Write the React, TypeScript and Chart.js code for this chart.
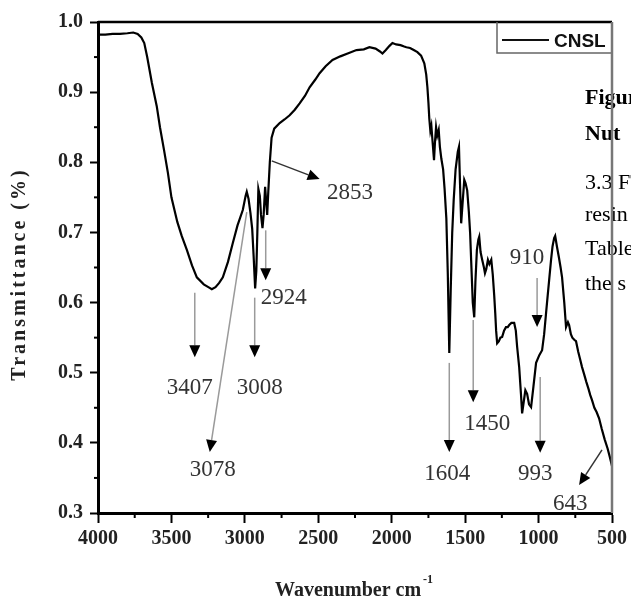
import React, { useEffect, useRef } from 'react';
import { Chart, registerables } from 'chart.js';

Chart.register(...registerables);

// ---- Spectrum (wavenumber cm^-1, transmittance) ----
const wavenumbers = [
  4000, 3950, 3900, 3850, 3800, 3760, 3730, 3705, 3685, 3665, 3633, 3600, 3578, 3550, 3524, 3500,
  3460, 3430, 3395, 3360, 3327, 3280, 3240, 3225, 3200, 3175, 3150, 3115, 3082, 3050, 3014, 2995,
  2987, 2975, 2962, 2950, 2940, 2930, 2922, 2915, 2908, 2898, 2890, 2880, 2872, 2862, 2855, 2848,
  2840, 2830, 2818, 2800, 2763, 2730, 2695, 2660, 2627, 2590, 2559, 2520, 2491, 2450, 2403, 2350,
  2300, 2240, 2190, 2152, 2110, 2080, 2063, 2040, 2015, 1995, 1970, 1940, 1915, 1900, 1875, 1850,
  1825, 1800, 1778, 1765, 1757, 1750, 1744, 1737, 1730, 1722, 1712, 1705, 1698, 1690, 1680, 1672,
  1662, 1650, 1640, 1628, 1618, 1608, 1598, 1588, 1578, 1565, 1550, 1542, 1535, 1527, 1518, 1506,
  1497, 1486, 1475, 1466, 1459, 1448, 1438, 1430, 1420, 1410, 1404, 1395, 1384, 1372, 1365, 1356,
  1345, 1335, 1322, 1312, 1302, 1295, 1289, 1282, 1270, 1260, 1248, 1235, 1222, 1210, 1200, 1185,
  1166, 1155, 1146, 1132, 1120, 1112, 1100, 1090, 1078, 1065, 1051, 1035, 1017, 995, 976, 962,
  949, 938, 928, 915, 905, 894, 887, 875, 862, 850, 840, 825, 813, 800, 792, 780,
  770, 757, 745, 730, 718, 704, 690, 675, 660, 648, 636, 620, 605, 588, 570, 550,
  530, 515, 500,
];
const transmittance = [
  0.982, 0.982, 0.983, 0.983, 0.984, 0.985, 0.983, 0.978, 0.970, 0.950, 0.913, 0.880, 0.850, 0.817, 0.785, 0.750,
  0.715, 0.695, 0.675, 0.653, 0.636, 0.626, 0.621, 0.619, 0.622, 0.628, 0.636, 0.658, 0.685, 0.710, 0.732, 0.752,
  0.758, 0.748, 0.728, 0.705, 0.665, 0.620, 0.645, 0.700, 0.762, 0.752, 0.725, 0.706, 0.725, 0.765, 0.745, 0.725,
  0.760, 0.800, 0.835, 0.848, 0.856, 0.861, 0.867, 0.875, 0.884, 0.895, 0.907, 0.918, 0.927, 0.937, 0.946, 0.951,
  0.955, 0.960, 0.961, 0.964, 0.962, 0.958, 0.955, 0.960, 0.966, 0.970, 0.968, 0.967, 0.965, 0.964, 0.963, 0.960,
  0.957, 0.952, 0.941, 0.925, 0.907, 0.885, 0.862, 0.845, 0.852, 0.830, 0.803, 0.830, 0.850, 0.838, 0.846, 0.822,
  0.805, 0.790, 0.762, 0.720, 0.640, 0.528, 0.620, 0.700, 0.746, 0.790, 0.815, 0.822, 0.770, 0.713, 0.740, 0.775,
  0.770, 0.760, 0.730, 0.699, 0.660, 0.600, 0.579, 0.630, 0.675, 0.690, 0.694, 0.672, 0.661, 0.650, 0.642, 0.648,
  0.661, 0.655, 0.661, 0.640, 0.610, 0.585, 0.560, 0.542, 0.545, 0.550, 0.551, 0.560, 0.565, 0.565, 0.568, 0.571,
  0.571, 0.560, 0.537, 0.508, 0.470, 0.442, 0.460, 0.475, 0.470, 0.455, 0.451, 0.480, 0.514, 0.525, 0.532, 0.555,
  0.585, 0.610, 0.632, 0.661, 0.680, 0.692, 0.695, 0.680, 0.665, 0.650, 0.636, 0.600, 0.565, 0.572, 0.568, 0.555,
  0.550, 0.547, 0.545, 0.530, 0.520, 0.508, 0.498, 0.487, 0.477, 0.468, 0.461, 0.450, 0.444, 0.435, 0.420, 0.405,
  0.392, 0.380, 0.367,
];

// ---- Axis ticks ----
const xMajorTicks = [4000, 3500, 3000, 2500, 2000, 1500, 1000, 500];
const xMinorTicks = [3750, 3250, 2750, 2250, 1750, 1250, 750];
const yMajorTicks = [0.3, 0.4, 0.5, 0.6, 0.7, 0.8, 0.9, 1.0];
const yMinorTicks = [0.35, 0.45, 0.55, 0.65, 0.75, 0.85, 0.95];

// ---- Peak annotations (data units) ----
const peakLabels = ['3407', '3008', '2924', '3078', '2853', '1604', '1450', '910', '993', '643'];
const arrowFromX = [3341, 2933, 2858, 2987, 2817, 1608, 1445, 1010, 989, 568];
const arrowFromY = [0.614, 0.607, 0.703, 0.729, 0.802, 0.514, 0.575, 0.635, 0.494, 0.390];
const arrowToX = [3341, 2933, 2858, 3239, 2491, 1608, 1445, 1010, 989, 724];
const arrowToY = [0.522, 0.522, 0.632, 0.387, 0.776, 0.387, 0.458, 0.565, 0.386, 0.340];
const labelX = [3375, 2899, 2736, 3218, 2284, 1621, 1350, 1078, 1023, 785];
const labelY = [0.478, 0.478, 0.607, 0.361, 0.756, 0.356, 0.427, 0.664, 0.356, 0.313];
const arrowDark = [false, false, false, false, true, false, false, false, false, true];

const seriesName = 'CNSL';
const yTitle = 'Transmittance (%)';
const xTitle = 'Wavenumber cm';
const xTitleSup = '-1';
const pageLines = ['Figure', 'Nut', '3.3 FTIR', 'resin', 'Table', 'the s'];
const pageBold = [true, true, false, false, false, false];

const SERIF = '"Liberation Serif", "Times New Roman", serif';
const SANS = '"Liberation Sans", Arial, sans-serif';

const overlayPlugin = {
  id: 'overlay',
  afterDraw(chart: any) {
    const { ctx, chartArea: a } = chart;
    const xs = chart.scales.x;
    const ys = chart.scales.y;
    ctx.save();

    // top border
    ctx.strokeStyle = '#000';
    ctx.lineWidth = 2.5;
    ctx.beginPath();
    ctx.moveTo(a.left, a.top);
    ctx.lineTo(a.right, a.top);
    ctx.stroke();

    // minor ticks
    ctx.strokeStyle = '#000';
    ctx.lineWidth = 2;
    for (const v of xMinorTicks) {
      const px = xs.getPixelForValue(v);
      ctx.beginPath();
      ctx.moveTo(px, a.bottom);
      ctx.lineTo(px, a.bottom + 5);
      ctx.stroke();
    }
    for (const v of yMinorTicks) {
      const py = ys.getPixelForValue(v);
      ctx.beginPath();
      ctx.moveTo(a.left, py);
      ctx.lineTo(a.left - 4, py);
      ctx.stroke();
    }

    // arrows
    for (let i = 0; i < peakLabels.length; i++) {
      const x1 = xs.getPixelForValue(arrowFromX[i]);
      const y1 = ys.getPixelForValue(arrowFromY[i]);
      const x2 = xs.getPixelForValue(arrowToX[i]);
      const y2 = ys.getPixelForValue(arrowToY[i]);
      const ang = Math.atan2(y2 - y1, x2 - x1);
      const hl = 12;
      const hw = 5.5;
      const bx = x2 - hl * Math.cos(ang);
      const by = y2 - hl * Math.sin(ang);
      ctx.strokeStyle = arrowDark[i] ? '#333' : '#9a9a9a';
      ctx.lineWidth = 1.5;
      ctx.beginPath();
      ctx.moveTo(x1, y1);
      ctx.lineTo(bx, by);
      ctx.stroke();
      ctx.fillStyle = '#000';
      ctx.beginPath();
      ctx.moveTo(x2, y2);
      ctx.lineTo(bx + hw * Math.sin(ang), by - hw * Math.cos(ang));
      ctx.lineTo(bx - hw * Math.sin(ang), by + hw * Math.cos(ang));
      ctx.closePath();
      ctx.fill();
    }

    // peak labels
    ctx.fillStyle = '#333';
    ctx.font = `23px ${SERIF}`;
    ctx.textAlign = 'center';
    ctx.textBaseline = 'middle';
    for (let i = 0; i < peakLabels.length; i++) {
      ctx.fillText(peakLabels[i], xs.getPixelForValue(labelX[i]), ys.getPixelForValue(labelY[i]));
    }

    // legend box
    const lx = a.right - 115;
    const ly = a.top;
    ctx.strokeStyle = '#666';
    ctx.lineWidth = 1.5;
    ctx.beginPath();
    ctx.moveTo(lx, ly);
    ctx.lineTo(lx, ly + 31);
    ctx.lineTo(a.right, ly + 31);
    ctx.stroke();
    ctx.strokeStyle = '#111';
    ctx.lineWidth = 2;
    ctx.beginPath();
    ctx.moveTo(lx + 5, ly + 18);
    ctx.lineTo(lx + 52, ly + 18);
    ctx.stroke();
    ctx.fillStyle = '#111';
    ctx.font = `bold 19px ${SANS}`;
    ctx.textAlign = 'left';
    ctx.textBaseline = 'alphabetic';
    ctx.fillText(seriesName, lx + 57, ly + 25);

    // axis titles
    ctx.fillStyle = '#222';
    ctx.font = `bold 20px ${SERIF}`;
    ctx.textAlign = 'left';
    ctx.textBaseline = 'alphabetic';
    ctx.fillText(xTitle, 275, 596);
    const tw = ctx.measureText(xTitle).width;
    ctx.font = `bold 12px ${SERIF}`;
    ctx.fillText(xTitleSup, 275 + tw + 2, 583);

    ctx.save();
    ctx.translate(20, 274);
    ctx.rotate(-Math.PI / 2);
    ctx.font = `bold 20px ${SERIF}`;
    (ctx as any).letterSpacing = '3px';
    ctx.textAlign = 'center';
    ctx.textBaseline = 'middle';
    ctx.fillText(yTitle, 0, 0);
    ctx.restore();

    // overlapping page text
    const baselines = [104, 140, 189, 221, 255, 290];
    ctx.fillStyle = '#000';
    ctx.textAlign = 'left';
    ctx.textBaseline = 'alphabetic';
    for (let i = 0; i < pageLines.length; i++) {
      ctx.font = `${pageBold[i] ? 'bold ' : ''}22px ${SERIF}`;
      ctx.fillText(pageLines[i], 585, baselines[i]);
    }

    // right border (drawn over the page text, as in the reference)
    ctx.strokeStyle = '#777';
    ctx.lineWidth = 2.5;
    ctx.beginPath();
    ctx.moveTo(a.right, a.top);
    ctx.lineTo(a.right, a.bottom);
    ctx.stroke();

    ctx.restore();
  },
};

export default function App() {
  const ref = useRef<HTMLCanvasElement | null>(null);

  useEffect(() => {
    if (!ref.current) return;
    const data = wavenumbers.map((w, i) => ({ x: w, y: transmittance[i] }));
    const chart = new Chart(ref.current, {
      type: 'line',
      data: {
        datasets: [
          {
            label: seriesName,
            data,
            borderColor: '#000',
            borderWidth: 2.2,
            pointRadius: 0,
            tension: 0,
            fill: false,
          },
        ],
      },
      options: {
        responsive: false,
        animation: false,
        layout: { padding: { left: 0, right: 18, top: 22, bottom: 0 } },
        plugins: { legend: { display: false }, tooltip: { enabled: false } },
        scales: {
          x: {
            type: 'linear',
            reverse: true,
            min: 500,
            max: 4000,
            afterFit: (s: any) => {
              s.height = 88;
            },
            afterBuildTicks: (s: any) => {
              s.ticks = xMajorTicks.map((v) => ({ value: v }));
            },
            border: { display: true, color: '#000', width: 3 },
            grid: { display: true, drawOnChartArea: false, drawTicks: true, tickLength: 10, tickWidth: 2, tickColor: '#000' },
            ticks: {
              color: '#222',
              font: { family: SERIF, size: 20, weight: 'bold' },
              padding: 4,
              maxRotation: 0,
              callback: (v: any) => String(v),
            },
          },
          y: {
            type: 'linear',
            min: 0.3,
            max: 1.0,
            afterFit: (s: any) => {
              s.width = 98;
            },
            afterBuildTicks: (s: any) => {
              s.ticks = yMajorTicks.map((v) => ({ value: v }));
            },
            border: { display: true, color: '#000', width: 3 },
            grid: { display: true, drawOnChartArea: false, drawTicks: true, tickLength: 8, tickWidth: 2, tickColor: '#000' },
            ticks: {
              color: '#222',
              font: { family: SERIF, size: 20, weight: 'bold' },
              padding: 7,
              callback: (v: any) => Number(v).toFixed(1),
            },
          },
        },
      },
      plugins: [overlayPlugin],
    });
    return () => chart.destroy();
  }, []);

  return (
    <div style={{ position: 'absolute', left: 0, top: 0, width: 631, height: 601, background: '#fff' }}>
      <canvas ref={ref} width={631} height={601} style={{ display: 'block' }} />
    </div>
  );
}
